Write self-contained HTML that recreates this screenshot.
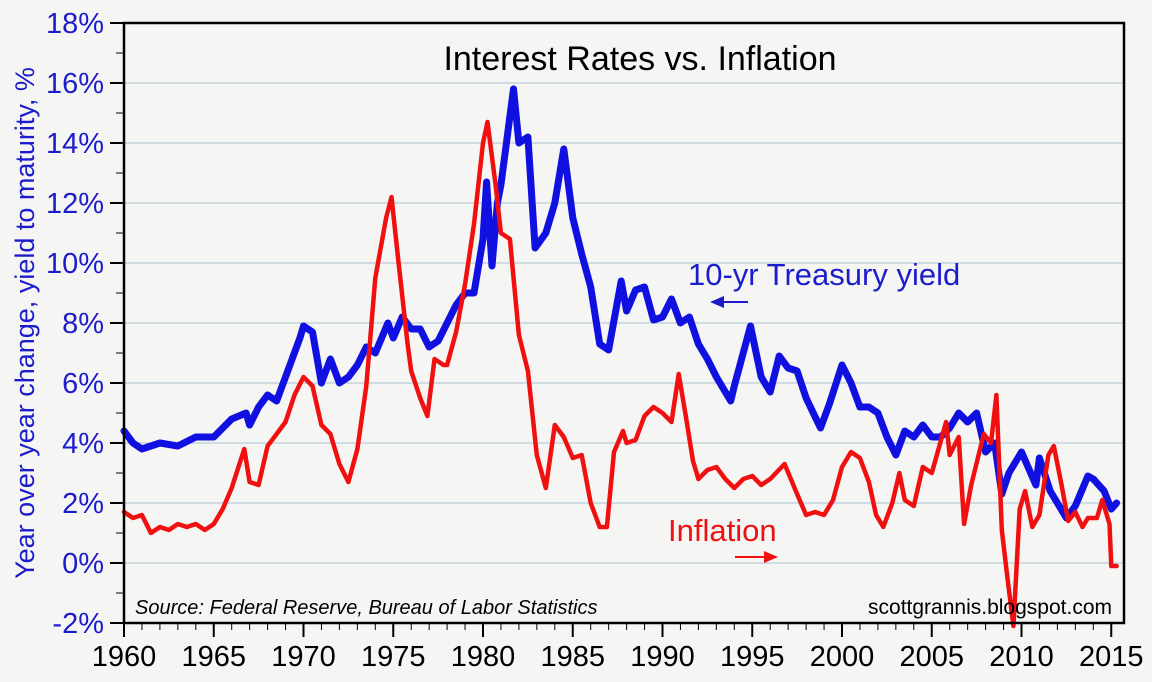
<!DOCTYPE html>
<html><head><meta charset="utf-8"><style>
body{margin:0;background:#f5f5f4;}
svg{display:block;font-family:"Liberation Sans",sans-serif;}
</style></head><body>
<svg id="c" width="1152" height="682" xmlns="http://www.w3.org/2000/svg">
<rect x="0" y="0" width="1152" height="682" fill="#f5f5f4"/>
<g id="grid"></g>
<g id="series"></g>
<rect x="124" y="23" width="1000" height="600" fill="none" stroke="#000" stroke-width="2.5"/>
<g id="axes"></g>
<text x="640" y="70" text-anchor="middle" font-size="34" fill="#000">Interest Rates vs. Inflation</text>
<text transform="translate(34,323) rotate(-90)" text-anchor="middle" font-size="27" fill="#1c1ccc">Year over year change, yield to maturity, %</text>
<text x="688" y="285" font-size="31" fill="#1c1ccc">10-yr Treasury yield</text>
<g><line x1="720" y1="302" x2="748" y2="302" stroke="#1c1ccc" stroke-width="2"/><polygon points="710,302 724,296 724,308" fill="#1c1ccc"/></g>
<text x="668" y="541" font-size="31" fill="#f01010">Inflation</text>
<g><line x1="735" y1="557" x2="766" y2="557" stroke="#f01010" stroke-width="2"/><polygon points="778,557 764,551 764,563" fill="#f01010"/></g>
<text x="135" y="614" font-size="20" font-style="italic" fill="#000">Source: Federal Reserve, Bureau of Labor Statistics</text>
<text x="1112" y="614" text-anchor="end" font-size="21" fill="#000">scottgrannis.blogspot.com</text>
</svg>
<script>
const yTickLabels=["-2%","0%","2%","4%","6%","8%","10%","12%","14%","16%","18%"];
const yTickValues=[-2,0,2,4,6,8,10,12,14,16,18];
const xTickYears=[1960,1965,1970,1975,1980,1985,1990,1995,2000,2005,2010,2015];
const yieldDates=[1960,1960.5,1961,1962,1963,1964,1965,1966,1966.8,1967,1967.5,1968,1968.5,1969,1969.8,1970,1970.5,1971,1971.5,1972,1972.5,1973,1973.5,1974,1974.7,1975,1975.5,1976,1976.5,1977,1977.5,1978,1978.5,1979,1979.5,1980,1980.2,1980.5,1980.8,1981,1981.7,1982,1982.5,1982.9,1983.5,1984,1984.5,1985,1985.5,1986,1986.5,1987,1987.7,1988,1988.5,1989,1989.5,1990,1990.5,1991,1991.5,1992,1992.5,1993,1993.8,1994,1994.9,1995.5,1996,1996.5,1997,1997.5,1998,1998.8,1999.3,2000,2000.5,2001,2001.5,2002,2002.5,2003,2003.5,2004,2004.5,2005,2005.5,2006,2006.5,2007,2007.5,2008,2008.5,2008.9,2009.3,2010,2010.8,2011,2011.6,2012,2012.5,2013,2013.7,2014,2014.6,2015,2015.3];
const yieldValues=[4.4,4.0,3.8,4.0,3.9,4.2,4.2,4.8,5.0,4.6,5.2,5.6,5.4,6.2,7.5,7.9,7.7,6.0,6.8,6.0,6.2,6.6,7.2,7.0,8.0,7.5,8.2,7.8,7.8,7.2,7.4,8.0,8.6,9.0,9.0,10.8,12.7,9.9,12.0,12.6,15.8,14.0,14.2,10.5,11.0,12.0,13.8,11.5,10.3,9.2,7.3,7.1,9.4,8.4,9.1,9.2,8.1,8.2,8.8,8.0,8.2,7.3,6.8,6.2,5.4,5.9,7.9,6.2,5.7,6.9,6.5,6.4,5.5,4.5,5.3,6.6,6.0,5.2,5.2,5.0,4.2,3.6,4.4,4.2,4.6,4.2,4.2,4.5,5.0,4.7,5.0,3.7,4.0,2.3,3.0,3.7,2.6,3.5,2.4,2.0,1.5,1.9,2.9,2.8,2.4,1.8,2.0];
const inflDates=[1960,1960.5,1961,1961.5,1962,1962.5,1963,1963.5,1964,1964.5,1965,1965.5,1966,1966.7,1967,1967.5,1968,1968.5,1969,1969.5,1970,1970.5,1971,1971.5,1972,1972.5,1973,1973.5,1974,1974.6,1974.9,1975.3,1975.8,1976,1976.5,1976.9,1977.3,1977.8,1978,1978.5,1979,1979.5,1980,1980.25,1980.7,1981,1981.5,1982,1982.5,1983,1983.5,1984,1984.5,1985,1985.5,1986,1986.5,1986.9,1987.3,1987.8,1988,1988.5,1989,1989.5,1990,1990.5,1990.9,1991.3,1991.7,1992,1992.5,1993,1993.5,1994,1994.5,1995,1995.5,1996,1996.8,1997.5,1998,1998.5,1999,1999.5,2000,2000.5,2001,2001.5,2001.9,2002.3,2002.8,2003.2,2003.5,2004,2004.5,2005,2005.8,2006,2006.5,2006.8,2007.2,2007.9,2008.3,2008.6,2008.9,2009.2,2009.55,2009.9,2010.2,2010.6,2011,2011.5,2011.8,2012.2,2012.6,2013,2013.4,2013.7,2014.2,2014.5,2014.9,2015,2015.3];
const inflValues=[1.7,1.5,1.6,1.0,1.2,1.1,1.3,1.2,1.3,1.1,1.3,1.8,2.5,3.8,2.7,2.6,3.9,4.3,4.7,5.6,6.2,5.9,4.6,4.3,3.3,2.7,3.8,5.9,9.5,11.5,12.2,10.0,7.3,6.4,5.5,4.9,6.8,6.6,6.6,7.7,9.3,11.3,14.0,14.7,12.6,11.0,10.8,7.6,6.4,3.6,2.5,4.6,4.2,3.5,3.6,2.0,1.2,1.2,3.7,4.4,4.0,4.1,4.9,5.2,5.0,4.7,6.3,4.9,3.4,2.8,3.1,3.2,2.8,2.5,2.8,2.9,2.6,2.8,3.3,2.3,1.6,1.7,1.6,2.1,3.2,3.7,3.5,2.7,1.6,1.2,2.0,3.0,2.1,1.9,3.2,3.0,4.7,3.6,4.2,1.3,2.6,4.3,4.0,5.6,1.1,-0.4,-2.1,1.8,2.4,1.2,1.6,3.6,3.9,2.7,1.4,1.7,1.2,1.5,1.5,2.1,1.3,-0.1,-0.1];

const NS="http://www.w3.org/2000/svg";
const X=y=>124+(y-1960)*17.95;
const Y=v=>563-v*30;
const grid=document.getElementById('grid'),axes=document.getElementById('axes'),series=document.getElementById('series');
function mk(tag,attrs,parent){const e=document.createElementNS(NS,tag);for(const k in attrs)e.setAttribute(k,attrs[k]);parent.appendChild(e);return e;}
yTickValues.forEach((v,i)=>{
  if(v>-2&&v<18){const g=mk('line',{x1:124,x2:1124,y1:Y(v),y2:Y(v),stroke:'#a9c4d2','stroke-width':1},grid);
  
  }
  const t=mk('line',{x1:110,x2:124,y1:Y(v),y2:Y(v),stroke:'#000','stroke-width':2},axes);
  
  
  const l=mk('text',{x:104,y:Y(v)+10,'text-anchor':'end','font-size':29,fill:'#1c1ccc'},axes);
  l.textContent=yTickLabels[i];
  
  
  if(v<18){const m=mk('line',{x1:116,x2:124,y1:Y(v+1),y2:Y(v+1),stroke:'#000','stroke-width':1},axes);
  
  }
});
for(let yr=1960;yr<=2015;yr++){
  const major=xTickYears.includes(yr);
  const t=mk('line',{x1:X(yr),x2:X(yr),y1:623,y2:major?637:630,stroke:'#000','stroke-width':major?2:1},axes);
  
  
}
xTickYears.forEach(yr=>{
  const l=mk('text',{x:X(yr),y:666,'text-anchor':'middle','font-size':29,fill:'#000'},axes);
  l.textContent=yr;
  
  
});
function line(ds,vs,color,w,name){
  const d=ds.map((x,i)=>(i?'L':'M')+X(x).toFixed(1)+','+Y(vs[i]).toFixed(1)).join('');
  const p=mk('path',{d:d,fill:'none',stroke:color,'stroke-width':w,'stroke-linejoin':'round','stroke-linecap':'round'},series);
  
  
}
line(yieldDates,yieldValues,'#1010e0',7,'treasury-yield-line');
line(inflDates,inflValues,'#f01010',4.5,'inflation-line');
</script>
</body></html>
